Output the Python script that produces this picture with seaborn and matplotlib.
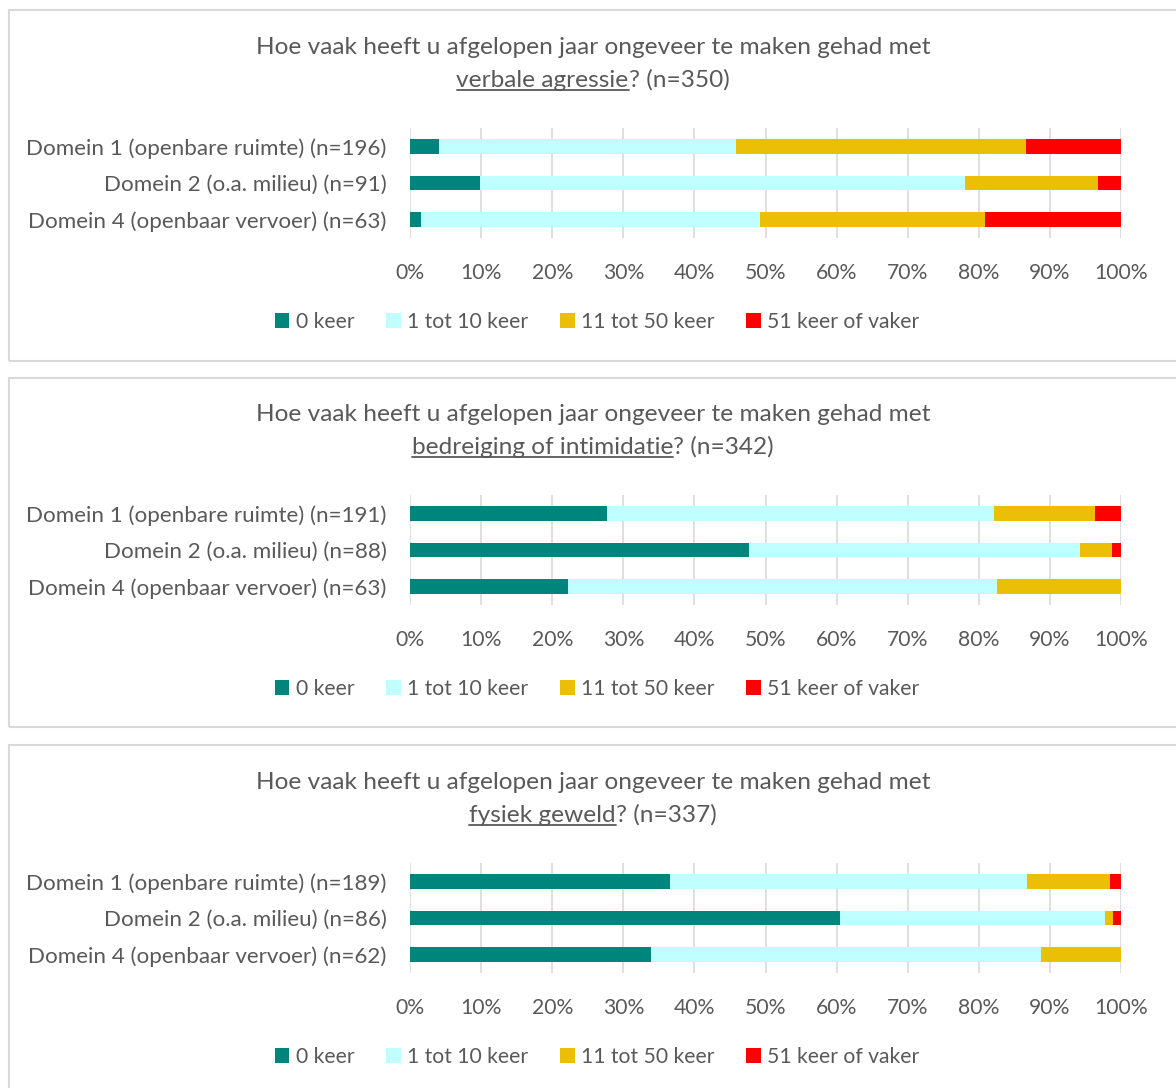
import numpy as np
import pandas as pd
import matplotlib
matplotlib.use("Agg")
import matplotlib.pyplot as plt
from matplotlib.patches import Patch, Rectangle
from matplotlib.lines import Line2D
import seaborn as sns

# data (percentages per domain)
series = ["0 keer", "1 tot 10 keer", "11 tot 50 keer", "51 keer of vaker"]
colors = ["#00857C", "#BFFFFF", "#EABF05", "#FF0000"]

topics = ["verbale agressie", "bedreiging of intimidatie", "fysiek geweld"]
totals = [350, 342, 337]

domains_verbaal = ["Domein 1 (openbare ruimte) (n=196)", "Domein 2 (o.a. milieu) (n=91)",
                   "Domein 4 (openbaar vervoer) (n=63)"]
domains_bedreiging = ["Domein 1 (openbare ruimte) (n=191)", "Domein 2 (o.a. milieu) (n=88)",
                      "Domein 4 (openbaar vervoer) (n=63)"]
domains_fysiek = ["Domein 1 (openbare ruimte) (n=189)", "Domein 2 (o.a. milieu) (n=86)",
                  "Domein 4 (openbaar vervoer) (n=62)"]

verbaal = [[4.1, 41.8, 40.8, 13.3],
           [9.9, 68.1, 18.7, 3.3],
           [1.6, 47.6, 31.7, 19.1]]
bedreiging = [[27.7, 54.5, 14.1, 3.7],
              [47.7, 46.6, 4.5, 1.2],
              [22.2, 60.3, 17.5, 0.0]]
fysiek = [[36.5, 50.3, 11.6, 1.6],
          [60.5, 37.2, 1.2, 1.1],
          [33.9, 54.8, 11.3, 0.0]]

panels = [(domains_verbaal, verbaal), (domains_bedreiging, bedreiging), (domains_fysiek, fysiek)]

sns.set_style("white")
plt.rcParams["font.family"] = ["Lato", "DejaVu Sans"]
txt = "#595959"
grid = "#D9D9D9"

W, H = 1176, 1088
fig = plt.figure(figsize=(W / 100, H / 100), dpi=100)
renderer = fig.canvas.get_renderer()


def fx(px):
    return px / W


def fy(py):
    return 1 - py / H


offsets = [0, 367, 735]
boxes = [(10, 361), (378, 727), (745, 1100)]
xc = 593
fs_title = 17.6
fs_lab = 16.1
fs_tick = 15.2

for k, ((cats, vals), topic, n) in enumerate(zip(panels, topics, totals)):
    dy = offsets[k]

    # panel border
    top, bot = boxes[k]
    fig.patches.append(Rectangle((fx(8.5), fy(bot)), fx(1200), fy(top) - fy(bot),
                                 transform=fig.transFigure, fill=False,
                                 edgecolor="#D9D9D9", lw=1.5))

    ax = fig.add_axes([fx(410), fy(238 + dy), fx(1121 - 410), fy(128) - fy(238)])
    df = pd.DataFrame(vals, columns=series)
    df["domein"] = cats
    cum = df[series].cumsum(axis=1) / 100
    # stack by overdrawing cumulative totals, widest first
    for s, c in reversed(list(zip(series, colors))):
        sns.barplot(x=cum[s], y=df["domein"], color=c, width=0.4, orient="h",
                    ax=ax, saturation=1, linewidth=0, zorder=3)

    ax.set_xlim(0, 1)
    ax.set_xticks(np.arange(0, 1.01, 0.1))
    ax.set_xticklabels([f"{int(round(v * 100))}%" for v in np.arange(0, 1.01, 0.1)])
    ax.xaxis.grid(True, color=grid, lw=1.2, zorder=0)
    ax.set_axisbelow(True)
    for sp in ax.spines.values():
        sp.set_visible(False)
    ax.set_xlabel("")
    ax.set_ylabel("")
    ax.tick_params(axis="both", length=0, labelcolor=txt)
    ax.tick_params(axis="x", pad=18, labelsize=fs_tick)
    ax.tick_params(axis="y", pad=17, labelsize=fs_lab)

    # title, second line partly underlined
    fig.text(fx(xc), fy(54 + dy), "Hoe vaak heeft u afgelopen jaar ongeveer te maken gehad met",
             ha="center", va="baseline", fontsize=fs_title, color=txt)
    t1 = fig.text(0, fy(87 + dy), topic, ha="left", va="baseline", fontsize=fs_title, color=txt)
    t2 = fig.text(0, fy(87 + dy), f"? (n={n})", ha="left", va="baseline", fontsize=fs_title, color=txt)
    w1 = t1.get_window_extent(renderer).width
    w2 = t2.get_window_extent(renderer).width
    x0 = xc - (w1 + w2) / 2
    t1.set_x(fx(x0))
    t2.set_x(fx(x0 + w1))
    fig.add_artist(Line2D([fx(x0), fx(x0 + w1)], [fy(90 + dy), fy(90 + dy)],
                          transform=fig.transFigure, color=txt, lw=1.3))

    handles = [Patch(facecolor=c, edgecolor="none") for c in colors]
    fig.legend(handles, series, loc="center", bbox_to_anchor=(fx(597), fy(322 + dy)),
               ncol=4, frameon=False, fontsize=fs_tick, labelcolor=txt,
               handlelength=0.7, handleheight=0.7, handletextpad=0.3, columnspacing=1.5)

fig.savefig("out.png", dpi=100, facecolor="white")
